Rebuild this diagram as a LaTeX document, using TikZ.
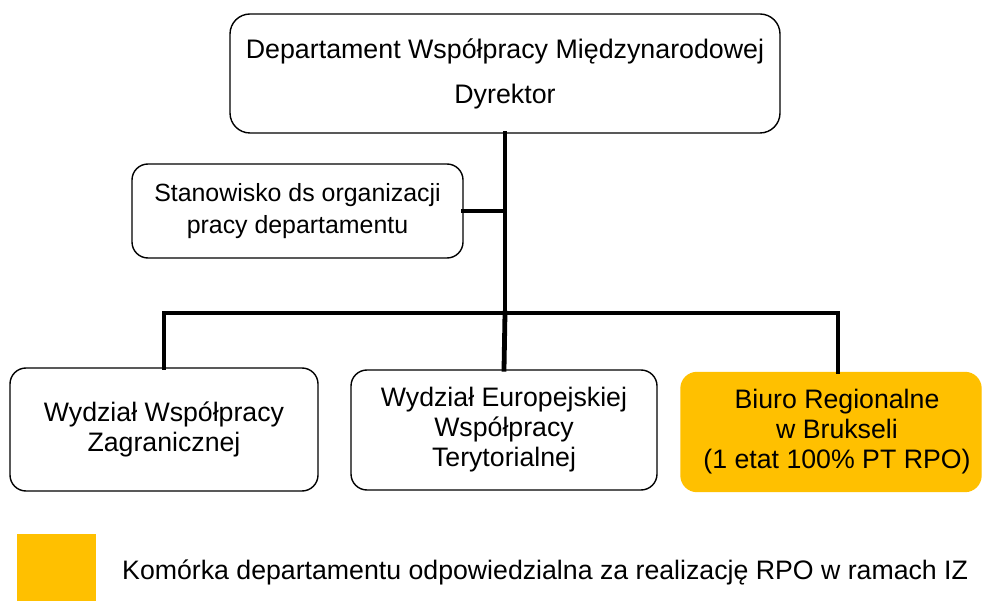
\documentclass[tikz,border=0pt]{standalone}
\usepackage{fontspec}
\setmainfont{Liberation Sans}
\definecolor{rpo}{HTML}{FFC000}
\begin{document}
\begin{tikzpicture}[x=1pt,y=-1pt,
  box/.style={draw=black,line width=1.4pt,rounded corners=16pt,align=center,inner sep=0pt},
  conn/.style={line width=4.8pt,line cap=rect}]
\useasboundingbox (0,0) rectangle (982,601);
\node[box,minimum width=550pt,minimum height=119pt,rounded corners=20pt,
  font=\fontsize{26.8}{45}\selectfont] (top) at (505,73.5)
  {Departament Współpracy Międzynarodowej\\Dyrektor};
\node[box,minimum width=331pt,minimum height=94pt,
  font=\fontsize{24.9}{32}\selectfont] (side) at (297.5,211)
  {Stanowisko ds organizacji\\pracy departamentu};
\node[box,minimum width=308pt,minimum height=123pt,
  font=\fontsize{26.7}{30}\selectfont] (b1) at (164,429.5)
  {Wydział Współpracy\\Zagranicznej};
\node[box,minimum width=306pt,minimum height=120pt,
  font=\fontsize{26.7}{30}\selectfont] (b2) at (504,430)
  {Wydział Europejskiej\\Współpracy\\Terytorialnej};
\node[box,draw=rpo,fill=rpo,minimum width=300pt,minimum height=119pt] (b3) at (831,432) {};
\node[align=center,inner sep=0pt,font=\fontsize{26.7}{30}\selectfont] (b3t) at (837,432)
  {Biuro Regionalne\\w Brukseli\\(1 etat 100\% PT RPO)};
\coordinate (j) at (505,313);
\coordinate (k) at (505,211);
\coordinate (r) at (838,313);
\draw[conn] (top.south) -- (j);
\draw[conn] (side.east) -- (k);
\draw[conn] (b1.north) |- (j);
\draw[conn] (j) -- (r);
\draw[conn] (r) -- (r |- b3.north);
\draw[conn] (j) -- (b2.north);
\node[fill=rpo,minimum width=79pt,minimum height=67pt,inner sep=0pt] (leg) at (56.5,567.5) {};
\node[anchor=west,inner sep=0pt,font=\fontsize{26.7}{30}\selectfont] (legt) at (122,572)
  {Komórka departamentu odpowiedzialna za realizację RPO w ramach IZ};
\end{tikzpicture}
\end{document}
